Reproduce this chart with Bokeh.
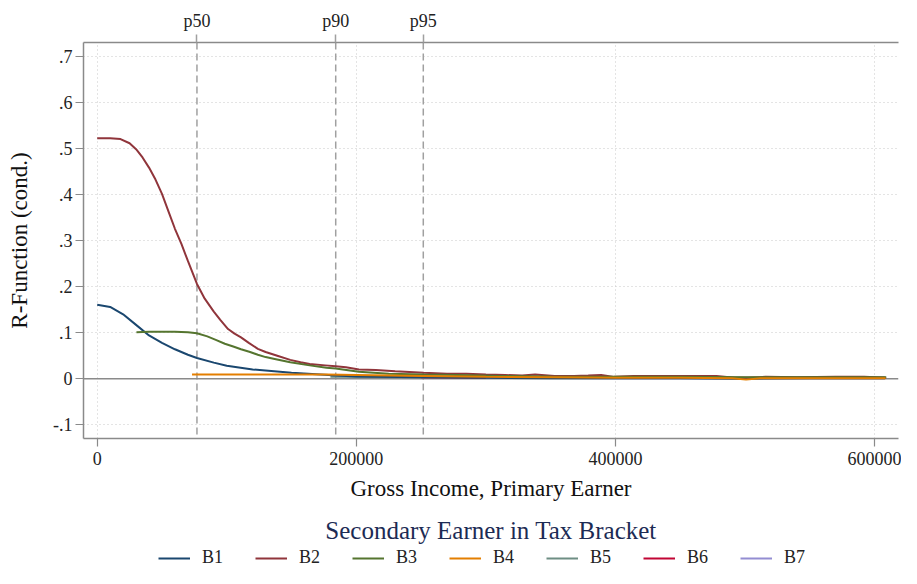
from bokeh.plotting import figure
from bokeh.layouts import column
from bokeh.models import Range1d, LinearAxis, FixedTicker, Span, Legend, LegendItem, Title
from bokeh.embed import file_html
from bokeh.resources import INLINE

FONT = "Liberation Serif"

# ---------------- data ----------------
series_names = ["B1", "B2", "B3", "B4", "B5", "B6", "B7"]
series_colors = ["#1a476f", "#90353b", "#55752f", "#e37e00", "#6e8e84", "#c10534", "#938dd2"]

b1_x = [0, 10000, 20000, 30000, 40000, 50000, 60000, 70000, 77000, 90000, 100000,
        120000, 150000, 185000, 200000, 250000, 300000, 350000, 400000, 450000,
        500000, 550000, 608000]
b1_y = [0.161, 0.156, 0.140, 0.117, 0.094, 0.078, 0.064, 0.052, 0.045, 0.035, 0.028,
        0.020, 0.013, 0.007, 0.005, 0.003, 0.002, 0.001, 0.001, 0.001,
        0.000, 0.001, 0.001]

b2_x = [0, 10000, 18000, 25000, 30000, 35000, 40000, 45000, 50000, 55000, 60000,
        65000, 70000, 77000, 83000, 90000, 95000, 101000, 106000, 111000, 117000,
        124000, 130000, 139000, 149000, 157000, 164000, 176000, 184000, 192000,
        202000, 215000, 230000, 252000, 270000, 285000, 300000, 315000, 328000,
        338000, 353000, 368000, 379000, 389000, 399000, 414000, 440000, 465000,
        478000, 488000, 496000, 505000, 516000, 540000, 570000, 592000, 609000]
b2_y = [0.523, 0.523, 0.521, 0.512, 0.499, 0.481, 0.459, 0.433, 0.402, 0.364, 0.326,
        0.293, 0.256, 0.206, 0.174, 0.146, 0.128, 0.108, 0.098, 0.090, 0.078,
        0.065, 0.058, 0.050, 0.041, 0.036, 0.032, 0.029, 0.027, 0.025,
        0.020, 0.019, 0.016, 0.013, 0.011, 0.011, 0.009, 0.008, 0.007,
        0.009, 0.006, 0.006, 0.007, 0.008, 0.004, 0.006, 0.006, 0.006,
        0.006, 0.003, 0.000, 0.002, 0.004, 0.003, 0.004, 0.004, 0.002]

b3_x = [30300, 40000, 50000, 60000, 70000, 77000, 85000, 92000, 98500, 105000,
        111000, 118000, 124000, 130000, 137000, 149000, 164000, 177000, 184000,
        202000, 225000, 252000, 278000, 310000, 350000, 400000, 450000, 500000,
        550000, 609000]
b3_y = [0.101, 0.102, 0.102, 0.102, 0.101, 0.099, 0.092, 0.084, 0.076, 0.070,
        0.064, 0.058, 0.052, 0.047, 0.043, 0.036, 0.029, 0.024, 0.022,
        0.015, 0.011, 0.009, 0.008, 0.006, 0.005, 0.004, 0.004, 0.003,
        0.003, 0.003]

b4_x = [73200, 100000, 150000, 177000, 200000, 252000, 300000, 350000, 400000,
        450000, 490000, 500800, 512000, 550000, 608500]
b4_y = [0.009, 0.009, 0.009, 0.009, 0.008, 0.006, 0.004, 0.003, 0.002,
        0.002, 0.001, -0.002, 0.001, 0.001, 0.001]

b5_x = [180000, 250000, 350000, 450000, 550000, 608000]
b5_y = [0.004, 0.003, 0.003, 0.002, 0.002, 0.002]
b6_x = [250000, 350000, 450000, 550000, 608000]
b6_y = [0.003, 0.002, 0.002, 0.002, 0.002]
b7_x = [300000, 400000, 500000, 608000]
b7_y = [0.002, 0.001, 0.001, 0.001]

pct_pos = [77000, 184100, 251700]
pct_labels = ["p50", "p90", "p95"]
x_ticks = [0, 200000, 400000, 600000]
x_tick_labels = ["0", "200000", "400000", "600000"]
y_ticks = [-0.1, 0, 0.1, 0.2, 0.3, 0.4, 0.5, 0.6, 0.7]
y_tick_labels = ["-.1", "0", ".1", ".2", ".3", ".4", ".5", ".6", ".7"]

xs = [b1_x, b2_x, b3_x, b4_x, b5_x, b6_x, b7_x]
ys = [b1_y, b2_y, b3_y, b4_y, b5_y, b6_y, b7_y]

# ---------------- main figure ----------------
AX = "#8a8a8a"
W = 901
p = figure(width=W, height=503,
           x_range=Range1d(-10575, 618500), y_range=Range1d(-0.130, 0.731),
           output_backend="svg", toolbar_location=None,
           min_border_left=83, min_border_right=3, min_border_top=42,
           min_border_bottom=0)
p.outline_line_color = None
p.background_fill_color = "white"

p.xgrid.ticker = FixedTicker(ticks=x_ticks)
p.ygrid.ticker = FixedTicker(ticks=y_ticks)
for g in (p.xgrid, p.ygrid):
    g.grid_line_color = "#c8c8c8"
    g.grid_line_dash = "1 3"
    g.grid_line_width = 1

xa = p.xaxis[0]
xa.ticker = FixedTicker(ticks=x_ticks)
xa.major_label_overrides = {t: l for t, l in zip(x_ticks, x_tick_labels)}
xa.axis_label = "Gross Income, Primary Earner"
ya = p.yaxis[0]
ya.ticker = FixedTicker(ticks=y_ticks)
ya.major_label_overrides = {t: l for t, l in zip(y_ticks, y_tick_labels)}
ya.axis_label = "R-Function (cond.)"
for a in (xa, ya):
    a.axis_line_color = AX
    a.axis_line_width = 1.5
    a.major_tick_line_color = AX
    a.major_tick_line_width = 1.2
    a.major_tick_out = 8
    a.major_tick_in = 0
    a.minor_tick_line_color = None
    a.major_label_text_font = FONT
    a.major_label_text_font_size = "18px"
    a.major_label_text_color = "#222222"
    a.axis_label_text_font = FONT
    a.axis_label_text_font_size = "23px"
    a.axis_label_text_font_style = "normal"
    a.axis_label_text_color = "#111111"
xa.major_label_standoff = 5
xa.axis_label_standoff = 8
ya.major_label_standoff = 3
ya.major_label_orientation = "horizontal"
ya.axis_label_standoff = 18

top = LinearAxis(ticker=FixedTicker(ticks=pct_pos),
                 major_label_overrides={t: l for t, l in zip(pct_pos, pct_labels)})
top.axis_line_color = AX
top.axis_line_width = 1.5
top.major_tick_line_color = "#a0a0a0"
top.major_tick_line_width = 1.5
top.major_tick_out = 8
top.major_tick_in = 0
top.minor_tick_line_color = None
top.major_label_text_font = FONT
top.major_label_text_font_size = "18px"
top.major_label_text_color = "#222222"
top.major_label_standoff = 4
p.add_layout(top, "above")

for v in pct_pos:
    p.add_layout(Span(location=v, dimension="height", line_color="#a0a0a0",
                      line_width=1.5, line_dash="7 4", level="underlay"))
p.add_layout(Span(location=0, dimension="width", line_color=AX, line_width=1.5,
                  level="underlay"))

order = [4, 5, 6, 0, 1, 2, 3]
for i in order:
    p.line(xs[i], ys[i], line_color=series_colors[i], line_width=2)

# ---------------- legend strip ----------------
lf = figure(width=W, height=65, x_range=Range1d(0, 1), y_range=Range1d(0, 1),
            output_backend="svg", toolbar_location=None,
            min_border_left=83, min_border_right=3, min_border_top=40,
            min_border_bottom=0)
lf.axis.visible = False
lf.grid.visible = False
lf.outline_line_color = None
lf.add_layout(Title(text="Secondary Earner in Tax Bracket", align="center",
                    text_font=FONT, text_font_size="25px", text_font_style="normal",
                    text_color="#1c2b54", standoff=0, offset=0), "above")

nan = float("nan")
items = []
for i in range(7):
    r = lf.line(x=[nan, nan], y=[nan, nan], line_color=series_colors[i], line_width=2)
    items.append(LegendItem(label=series_names[i], renderers=[r]))

legend = Legend(items=items, orientation="horizontal", location=(75, 0),
                label_text_font=FONT, label_text_font_size="18px",
                label_text_color="#222222",
                glyph_width=32, glyph_height=18, label_standoff=12, spacing=32,
                border_line_color=None, background_fill_alpha=0,
                padding=0, margin=0)
lf.add_layout(legend, "center")

layout = column(p, lf, spacing=0)
open("out.html", "w").write(file_html(layout, INLINE))
